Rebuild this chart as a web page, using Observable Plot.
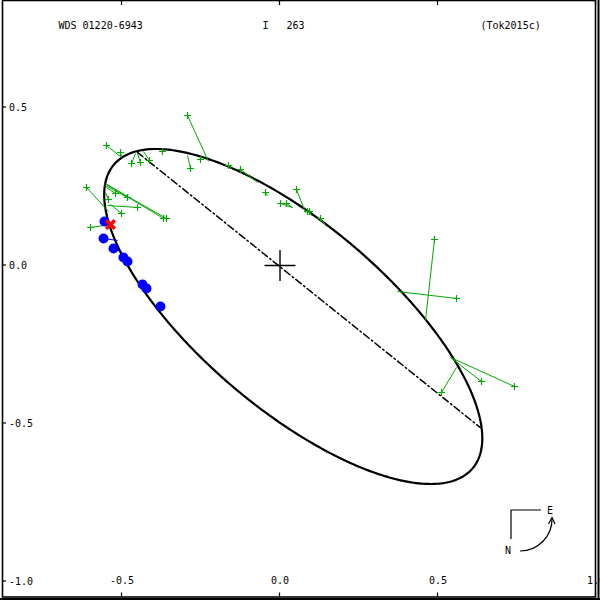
<!DOCTYPE html>
<html><head><meta charset="utf-8">
<script src="https://cdn.jsdelivr.net/npm/d3@7"></script>
<script src="https://cdn.jsdelivr.net/npm/@observablehq/plot@0.6"></script>
<style>body{margin:0;background:#fff}</style>
</head><body><div id="chart"></div>
<script>
// ---- texts and ticks ----
const titleLeft = "WDS 01220-6943";
const titleMid = "I   263";
const titleRight = "(Tok2015c)";
const xTicks = [-0.5, 0.0, 0.5, 1.0];
const yTicks = [0.5, 0.0, -0.5, -1.0];

// ---- apparent orbit (ellipse parameters, arcsec / degrees) ----
const ellCenter = [0.0419, -0.1614];
const ellAxes = [0.7437, 0.293];
const ellAngle = -40.26;

// ---- line of nodes ----
const nodesX = [-0.451, 0.634];
const nodesY = [0.358, -0.513];

// ---- visual / micrometric measures (green) : observed and predicted ----
const visX  = [-0.2927,-0.2832,-0.2516,-0.3718,-0.1630,-0.1250,-0.0459,0.0016,0.0206,0.0522,0.0870,0.0934,0.1282,0.4889,0.5585,0.6377,0.7421,0.5111,-0.5491,-0.5047,-0.4699,-0.4415,-0.4130,-0.6123,-0.5427,-0.5206,-0.4826,-0.4509,-0.5016,-0.3687,-0.3592,-0.5997];
const visY  = [0.4747,0.3070,0.3354,0.3608,0.3165,0.3038,0.2310,0.1962,0.1962,0.2405,0.1709,0.1709,0.1487,0.0823,-0.1044,-0.3671,-0.3829,-0.4019,0.3797,0.3576,0.3228,0.3259,0.3323,0.2468,0.2089,0.2278,0.2152,0.1835,0.1646,0.1487,0.1487,0.1203];
const visPX = [-0.2263,-0.2927,-0.2484,-0.3687,-0.1535,-0.0712,-0.0396,0.0396,0.0396,0.0807,0.0965,0.0997,0.1472,0.4604,0.3718,0.5396,0.5396,0.5585,-0.5016,-0.5016,-0.4573,-0.4509,-0.4320,-0.5427,-0.5522,-0.5491,-0.5522,-0.5459,-0.5364,-0.5522,-0.5491,-0.5554];
const visPY = [0.3291,0.3481,0.3449,0.3639,0.3070,0.2627,0.2215,0.1835,0.1835,0.1677,0.1614,0.1582,0.1234,-0.1741,-0.0823,-0.2911,-0.2911,-0.3228,0.3418,0.3449,0.3544,0.3544,0.3608,0.1709,0.2310,0.2468,0.2532,0.1899,0.1930,0.2595,0.2563,0.1266];

// ---- speckle measures (blue) ----
const spkX  = [-0.5554,-0.5585,-0.5269,-0.4953,-0.4826,-0.4351,-0.4225,-0.3782];
const spkY  = [0.1392,0.0854,0.0538,0.0253,0.0127,-0.0601,-0.0728,-0.1297];
const spkPX = [-0.5396,-0.5142,-0.5016,-0.4858,-0.4794,-0.4320,-0.4225,-0.3782];
const spkPY = [0.1392,0.0791,0.0443,0.0190,0.0095,-0.0633,-0.0759,-0.1297];

// ---- other (red) ----
const redX = [-0.5364];
const redY = [0.1297];

// ---- build tables ----
const vis = visX.map((x, i) => ({x, y: visY[i], px: visPX[i], py: visPY[i]}));
const spk = spkX.map((x, i) => ({x, y: spkY[i], px: spkPX[i], py: spkPY[i]}));
const red = redX.map((x, i) => ({x, y: redY[i]}));
const th = ellAngle * Math.PI / 180;
const orbit = d3.range(0, 361, 1).map(deg => {
  const t = deg * Math.PI / 180;
  const u = ellAxes[0] * Math.cos(t), v = ellAxes[1] * Math.sin(t);
  return {x: ellCenter[0] + u * Math.cos(th) - v * Math.sin(th),
          y: ellCenter[1] + u * Math.sin(th) + v * Math.cos(th)};
});
const nodes = nodesX.map((x, i) => ({x, y: nodesY[i]}));
const fmt = d => d.toFixed(1);

function ticksAndFrame(index, scales, values, dims) {
  const {width, height, marginLeft, marginRight, marginTop, marginBottom} = dims;
  const g = d3.create("svg:g").attr("stroke", "black").attr("fill", "none");
  const bottom = height - marginBottom, right = width - marginRight;
  for (const t of xTicks) {
    const px = scales.x(t);
    g.append("line").attr("x1", px).attr("x2", px).attr("y1", marginTop).attr("y2", marginTop + 5).attr("stroke-width", 1.2);
    g.append("line").attr("x1", px).attr("x2", px).attr("y1", bottom).attr("y2", bottom - 4).attr("stroke-width", 1.2);
  }
  for (const t of yTicks) {
    const py = scales.y(t);
    g.append("line").attr("x1", marginLeft).attr("x2", marginLeft + 4).attr("y1", py).attr("y2", py).attr("stroke-width", 1.2);
  }
  g.append("line").attr("x1", right + 3.5).attr("x2", right + 3.5).attr("y1", 0).attr("y2", height).attr("stroke-width", 2);
  g.append("line").attr("x1", 0).attr("x2", width).attr("y1", bottom + 2.5).attr("y2", bottom + 2.5).attr("stroke-width", 2);
  return g.node();
}

function compass(index, scales, values, dims) {
  const {width, height} = dims;
  const ox = width - 89, oy = height - 90;
  const g = d3.create("svg:g");
  g.append("path").attr("d", `M${ox},${oy + 29}V${oy}H${ox + 30}`).attr("stroke", "black").attr("fill", "none").attr("stroke-width", 1.2);
  g.append("path").attr("d", `M${ox + 9},${oy + 41}A32,32 0 0 0 ${ox + 41},${oy + 8}`).attr("stroke", "black").attr("fill", "none").attr("stroke-width", 1.2);
  g.append("path").attr("d", `M${ox + 37.5},${oy + 14}L${ox + 41},${oy + 7.5}L${ox + 44},${oy + 14}`).attr("stroke", "black").attr("fill", "none").attr("stroke-width", 1.2);
  g.append("text").attr("x", ox + 39).attr("y", oy).attr("dy", "0.35em").attr("text-anchor", "middle").attr("fill", "black").text("E");
  g.append("text").attr("x", ox - 3).attr("y", oy + 40).attr("dy", "0.35em").attr("text-anchor", "middle").attr("fill", "black").text("N");
  return g.node();
}

const chart = Plot.plot({
  width: 600, height: 600,
  marginLeft: 2, marginRight: 5, marginTop: 0, marginBottom: 3.5,
  x: {domain: [-0.8782, 0.9984], axis: null},
  y: {domain: [-1.0491, 0.8386], axis: null},
  style: {fontFamily: "'DejaVu Sans Mono', monospace", fontSize: "10px", background: "white", color: "black"},
  marks: [
    Plot.line(nodes, {x: "x", y: "y", stroke: "black", strokeWidth: 1.5, strokeDasharray: "7,3,1.5,3"}),
    Plot.line(orbit, {x: "x", y: "y", stroke: "black", strokeWidth: 2.2}),
    Plot.dot([{x: 0, y: 0}], {x: "x", y: "y", symbol: "plus", r: 10, stroke: "black", strokeWidth: 1.4}),
    Plot.link(vis, {x1: "x", y1: "y", x2: "px", y2: "py", stroke: "#00a800", strokeWidth: 1}),
    Plot.dot(vis, {x: "x", y: "y", symbol: "plus", r: 2.4, stroke: "#00a800", strokeWidth: 1.2}),
    Plot.link(spk, {x1: "x", y1: "y", x2: "px", y2: "py", stroke: "#0000ff", strokeWidth: 1}),
    Plot.dot(spk, {x: "x", y: "y", r: 5, fill: "#0000ff"}),
    Plot.dot(red, {x: "x", y: "y", symbol: "times", r: 4, stroke: "#ff0000", strokeWidth: 3.5}),
    Plot.text(xTicks, {x: d => d, frameAnchor: "bottom", dy: -13.5, text: fmt, fill: "black"}),
    Plot.text(yTicks, {y: d => d, frameAnchor: "left", dx: 6.5, textAnchor: "start", text: fmt, fill: "black"}),
    Plot.text([titleLeft], {frameAnchor: "top-left", dx: 56, dy: 25, lineAnchor: "middle", textAnchor: "start", text: d => d, fill: "black"}),
    Plot.text([titleMid], {frameAnchor: "top-left", dx: 260, dy: 25, lineAnchor: "middle", textAnchor: "start", text: d => d, fill: "black"}),
    Plot.text([titleRight], {frameAnchor: "top-left", dx: 478, dy: 25, lineAnchor: "middle", textAnchor: "start", text: d => d, fill: "black"}),
    ticksAndFrame,
    compass,
    Plot.frame({stroke: "black", strokeWidth: 1.6})
  ]
});
document.getElementById("chart").appendChild(chart);
</script>
</body></html>
